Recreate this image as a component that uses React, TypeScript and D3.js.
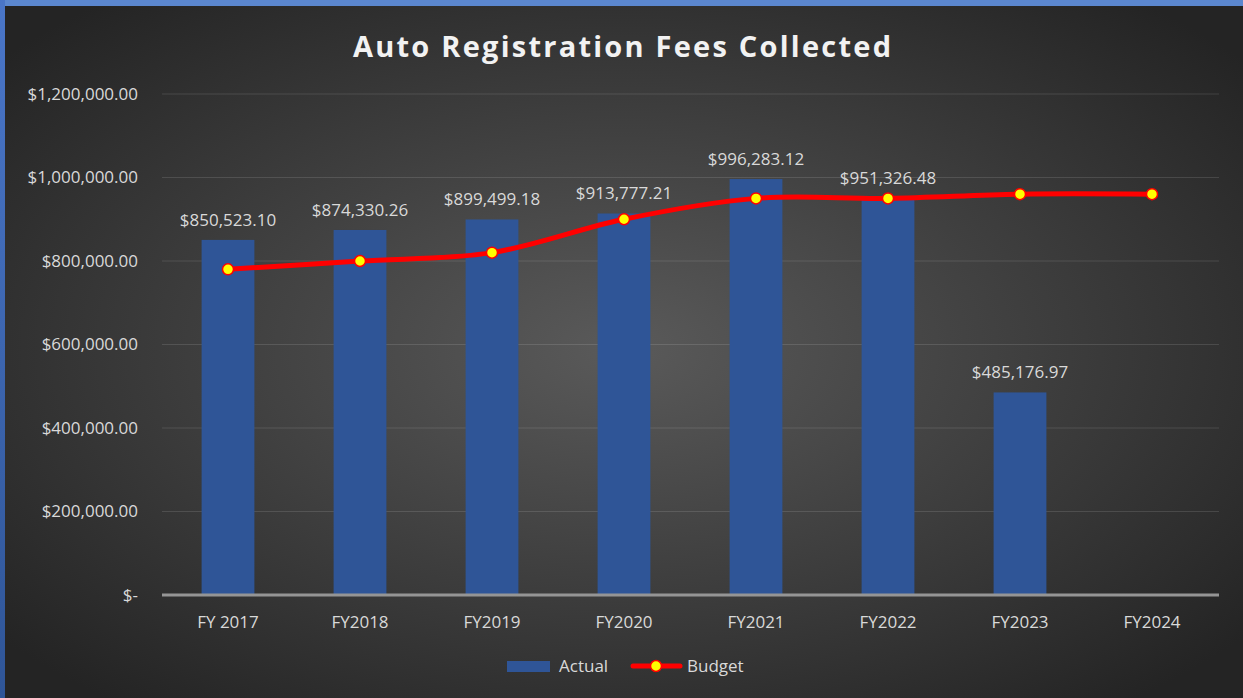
import { useEffect } from "react";
import * as d3 from "d3";

const categories = ["FY 2017", "FY2018", "FY2019", "FY2020", "FY2021", "FY2022", "FY2023", "FY2024"];
const actual: (number | null)[] = [850523.1, 874330.26, 899499.18, 913777.21, 996283.12, 951326.48, 485176.97, null];
const budget = [780000, 800000, 820000, 900000, 950000, 950000, 960000, 960000];
const yTicks = [0, 200000, 400000, 600000, 800000, 1000000, 1200000];

const W = 1243;
const H = 698;
const font = "'Open Sans', 'Liberation Sans', sans-serif";

const money = (v: number) => "$" + d3.format(",.2f")(v);
const tickLabel = (v: number) => (v === 0 ? "$-" : money(v));

export default function App() {
  useEffect(() => {
    document.body.style.margin = "0";
  }, []);

  const x = d3.scaleBand<string>().domain(categories).range([162, 1218]).paddingInner(0.6).paddingOuter(0.3);
  const y = d3.scaleLinear().domain([0, 1200000]).range([595, 94]);
  const cx = (c: string) => (x(c) ?? 0) + x.bandwidth() / 2;

  const line = d3
    .line<number>()
    .x((_, i) => cx(categories[i]))
    .y((d) => y(d))
    .curve(d3.curveCatmullRom.alpha(0));

  return (
    <svg width={W} height={H} style={{ display: "block" }} fontFamily={font}>
      <defs>
        <radialGradient id="bg" cx="50%" cy="50%" r="65%">
          <stop offset="0%" stopColor="#5a5a5a" />
          <stop offset="100%" stopColor="#242424" />
        </radialGradient>
        <linearGradient id="leftBorder" x1="0" y1="0" x2="0" y2="1">
          <stop offset="0%" stopColor="#4a76c8" />
          <stop offset="100%" stopColor="#2f5597" />
        </linearGradient>
      </defs>
      <rect x={0} y={0} width={W} height={H} fill="url(#bg)" />
      <rect x={0} y={0} width={W} height={6} fill="#5b87cf" />
      <rect x={0} y={0} width={5} height={H} fill="url(#leftBorder)" />

      <text x={622} y={57} textAnchor="middle" fontSize={29} fontWeight="bold" fill="#f2f2f2" textLength={538} lengthAdjust="spacing">
        Auto Registration Fees Collected
      </text>

      {yTicks.map((t) => (
        <g key={t}>
          {t !== 0 && <line x1={162} x2={1219} y1={y(t)} y2={y(t)} stroke="#ffffff" strokeOpacity={0.12} strokeWidth={1.2} />}
          <text x={138} y={y(t)} dy="0.35em" textAnchor="end" fontSize={17} fill="#d9d9d9">
            {tickLabel(t)}
          </text>
        </g>
      ))}

      {categories.map((c, i) =>
        actual[i] == null ? null : (
          <g key={c}>
            <rect x={x(c)} y={y(actual[i] as number)} width={x.bandwidth()} height={595 - y(actual[i] as number)} fill="#2f5597" />
            <text x={cx(c)} y={y(actual[i] as number) - 14} textAnchor="middle" fontSize={17} fill="#d9d9d9">
              {money(actual[i] as number)}
            </text>
          </g>
        )
      )}

      <line x1={162} x2={1219} y1={595} y2={595} stroke="#959595" strokeWidth={3} />

      {categories.map((c) => (
        <text key={c} x={cx(c)} y={622} dy="0.35em" textAnchor="middle" fontSize={17} fill="#d9d9d9">
          {c}
        </text>
      ))}

      <path d={line(budget) ?? ""} fill="none" stroke="#ff0000" strokeWidth={5} strokeLinejoin="round" />
      {budget.map((b, i) => (
        <circle key={i} cx={cx(categories[i])} cy={y(b)} r={5.5} fill="#ffff00" stroke="#ff0000" strokeWidth={1.5} />
      ))}

      <g>
        <rect x={507} y={661} width={43} height={11} fill="#2f5597" />
        <text x={559} y={666} dy="0.35em" fontSize={17} fill="#d9d9d9">Actual</text>
        <line x1={633} x2={680} y1={666} y2={666} stroke="#ff0000" strokeWidth={5} strokeLinecap="round" />
        <circle cx={656} cy={666} r={5.5} fill="#ffff00" stroke="#ff0000" strokeWidth={1.5} />
        <text x={687} y={666} dy="0.35em" fontSize={17} fill="#d9d9d9">Budget</text>
      </g>
    </svg>
  );
}
